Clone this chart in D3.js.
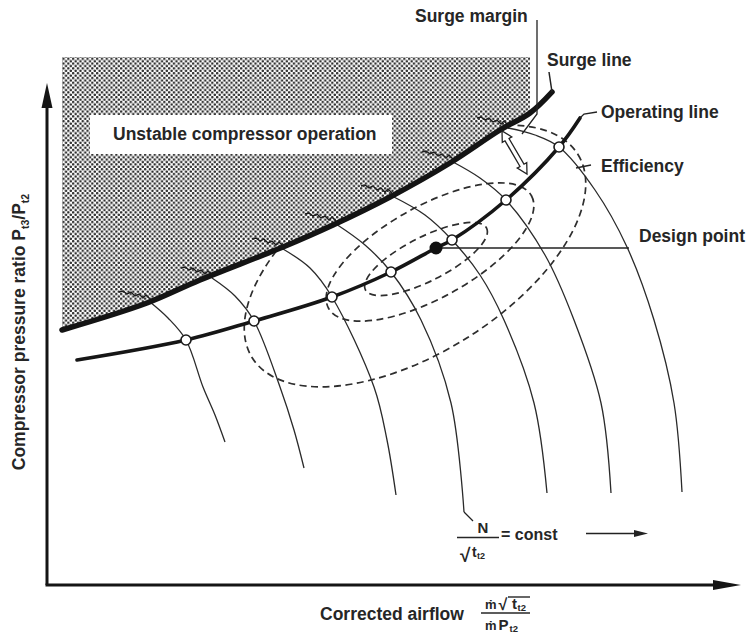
<!DOCTYPE html>
<html>
<head>
<meta charset="utf-8">
<script src="https://cdn.jsdelivr.net/npm/d3@7"></script>
<style>
  html, body { margin: 0; padding: 0; background: #fff; }
  svg { display: block; }
  text { font-family: "Liberation Sans", Arial, Helvetica, sans-serif; font-weight: bold; fill: #262626; }
</style>
</head>
<body>
<svg id="chart" width="748" height="640"></svg>
<script>
// ---- Compressor map data (schematic units: corrected airflow, pressure ratio) ----

// Surge line
const surgeX = [3.0, 20.0, 30.6, 47.2, 57.2, 68.6, 80.6, 90.6, 96.6, 101.0];
const surgeY = [51.0, 56.4, 61.0, 67.6, 72.0, 77.6, 84.4, 91.0, 94.4, 98.6];

// Steady-state operating line
const opX = [6.0, 27.8, 41.4, 57.0, 68.8, 77.8, 81.0, 91.8, 102.4, 106.6];
const opY = [45.0, 49.0, 52.8, 57.6, 62.6, 67.4, 69.0, 77.0, 87.6, 93.4];

// Matching points (speed line x operating line) and the design point
const matchX = [27.8, 41.4, 57.0, 68.8, 81.0, 91.8, 102.4];
const matchY = [49.0, 52.8, 57.6, 62.6, 69.0, 77.0, 87.6];
const designX = 77.8;
const designY = 67.4;

// Lines of constant corrected speed N / sqrt(t_t2)
const speedX = [
  [20.6, 24.2, 27.8, 31.2, 33.6, 35.6],
  [33.0, 37.6, 41.4, 46.6, 49.4, 51.4],
  [47.2, 52.6, 57.0, 65.4, 68.0, 69.8],
  [57.8, 63.6, 68.8, 74.8, 80.8, 83.4],
  [69.0, 75.6, 81.0, 86.6, 91.4, 97.4, 100.0],
  [81.2, 86.6, 91.8, 99.6, 105.4, 110.8, 112.8],
  [92.2, 97.6, 102.4, 109.6, 116.0, 121.4, 125.4, 127.0]
];
const speedY = [
  [56.6, 53.4, 49.0, 39.6, 34.0, 28.6],
  [61.4, 57.8, 52.8, 39.6, 31.0, 23.4],
  [67.2, 63.4, 57.6, 39.6, 29.0, 18.0],
  [72.2, 68.0, 62.6, 53.0, 36.4, 14.6],
  [77.8, 74.0, 69.0, 62.0, 53.0, 36.4, 18.4],
  [84.6, 81.4, 77.0, 66.0, 53.0, 36.4, 18.4],
  [91.4, 90.0, 87.6, 79.0, 67.6, 53.0, 36.4, 18.6]
];

// Efficiency islands (centre, semi-axes, tilt in degrees)
const effCx = [75.8, 76.6, 73.6];
const effCy = [65.2, 66.6, 65.8];
const effRx = [13.6, 23.2, 38.4];
const effRy = [4.4, 9.2, 19.4];
const effTilt = [27, 29, 32];

// Unstable (post-surge) region: top edge and right edge
const unstableTop = 105.6;
const unstableRightIndex = 8;   // last surge point under the shaded box

// Surge margin arrow: from surge line down to operating line
const marginFrom = [91.0, 90.8];
const marginTo = [96.0, 82.2];

// Axis extents
const xMax = 138.8;
const yMax = 100.4;

// ---- Scales ----
const x = d3.scaleLinear().domain([0, 140]).range([47, 747]);
const y = d3.scaleLinear().domain([0, 100]).range([585, 85]);

const svg = d3.select("#chart");
const defs = svg.append("defs");

// dot screen for the unstable region
const T = 4.8;
const pat = defs.append("pattern")
  .attr("id", "dots").attr("patternUnits", "userSpaceOnUse")
  .attr("width", T).attr("height", T);
pat.append("rect").attr("width", T).attr("height", T).attr("fill", "#fff");
pat.append("circle").attr("cx", T / 4).attr("cy", T / 4).attr("r", 1.25).attr("fill", "#2a2a2a");
pat.append("circle").attr("cx", 3 * T / 4).attr("cy", 3 * T / 4).attr("r", 1.25).attr("fill", "#2a2a2a");

const curve = d3.curveCatmullRom.alpha(0.5);
const lineXY = d3.line().x(d => x(d[0])).y(d => y(d[1])).curve(curve);
const zipXY = (xs, ys) => xs.map((v, i) => [v, ys[i]]);

// ---- Efficiency islands (dashed) ----
const gEff = svg.append("g");
effCx.forEach((cx, i) => {
  const px = x(cx), py = y(effCy[i]);
  gEff.append("ellipse")
    .attr("cx", px).attr("cy", py)
    .attr("rx", x(effRx[i]) - x(0))
    .attr("ry", y(0) - y(effRy[i]))
    .attr("transform", `rotate(${-effTilt[i]},${px},${py})`)
    .attr("fill", "none").attr("stroke", "#2e2e2e")
    .attr("stroke-width", 1.7).attr("stroke-dasharray", "7,4.5");
});

// ---- Constant speed lines ----
const gSpeed = svg.append("g");
speedX.forEach((xs, i) => {
  gSpeed.append("path")
    .attr("d", lineXY(zipXY(xs, speedY[i])))
    .attr("fill", "none").attr("stroke", "#2a2a2a").attr("stroke-width", 1.3);
});

// ---- Unstable region ----
const idx = d3.range(unstableRightIndex + 1);
const area = d3.area()
  .x(i => x(surgeX[i]))
  .y0(y(unstableTop))
  .y1(i => y(surgeY[i]))
  .curve(curve);
svg.append("path").attr("d", area(idx)).attr("fill", "url(#dots)");

// label box
svg.append("rect").attr("x", 90).attr("y", 115).attr("width", 302).attr("height", 39).attr("fill", "#fff");
svg.append("text").attr("x", 113).attr("y", 140).attr("font-size", 17.5)
  .text("Unstable compressor operation");

// stall marks at the top of every speed line
const squiggle = [[0,0],[-4,-4],[-7,-1],[-11,-5],[-15,-3],[-19,-7],[-23,-5],[-27,-8],[-31,-7]];
speedX.forEach((xs, i) => {
  const sx = x(xs[0]), sy = y(speedY[i][0]);
  svg.append("path")
    .attr("d", d3.line()(squiggle.map(p => [sx + p[0], sy - 3 + p[1]])))
    .attr("fill", "none").attr("stroke", "#1e1e1e").attr("stroke-width", 1.4);
});

// ---- Surge line ----
svg.append("path")
  .attr("d", lineXY(zipXY(surgeX, surgeY)))
  .attr("fill", "none").attr("stroke", "#141414").attr("stroke-width", 5.5)
  .attr("stroke-linecap", "round");

// ---- Operating line ----
svg.append("path")
  .attr("d", lineXY(zipXY(opX, opY)))
  .attr("fill", "none").attr("stroke", "#161616").attr("stroke-width", 3.6)
  .attr("stroke-linecap", "round");

// ---- Annotation leaders ----
const thin = (pts, w = 1.3) => svg.append("path").attr("d", d3.line()(pts))
  .attr("fill", "none").attr("stroke", "#222").attr("stroke-width", w);

// design point leader
thin([[x(designX), y(designY)], [629, y(designY)]], 1.5);
// surge margin leader
thin([[537, 20], [537, 114], [522, 134]]);
// surge line leader
const sEnd = [x(surgeX[surgeX.length - 1]), y(surgeY[surgeY.length - 1])];
thin([sEnd, [sEnd[0] - 3, sEnd[1] - 20]], 1.5);
// operating line leader
const oEnd = [x(opX[opX.length - 1]), y(opY[opY.length - 1])];
thin([oEnd, [oEnd[0] + 4, oEnd[1] - 4], [oEnd[0] + 17, oEnd[1] - 6]]);
// efficiency leader
thin([[576, 168], [591, 165]]);

// surge margin double arrow (hollow)
(function () {
  const A = [x(marginFrom[0]), y(marginFrom[1])];
  const B = [x(marginTo[0]), y(marginTo[1])];
  const L = Math.hypot(B[0] - A[0], B[1] - A[1]);
  const u = [(B[0] - A[0]) / L, (B[1] - A[1]) / L];
  const n = [-u[1], u[0]];
  const h = 10, w = 5.5, s = 2.3;
  const P = (base, a, b) => [base[0] + u[0] * a + n[0] * b, base[1] + u[1] * a + n[1] * b];
  const pts = [A, P(A, h, w), P(A, h, s), P(B, -h, s), P(B, -h, w), B,
               P(B, -h, -w), P(B, -h, -s), P(A, h, -s), P(A, h, -w)];
  svg.append("path").attr("d", d3.line()(pts) + "Z")
    .attr("fill", "#fff").attr("stroke", "#222").attr("stroke-width", 1.3);
})();

// matching points
svg.append("g").selectAll("circle").data(matchX).join("circle")
  .attr("cx", d => x(d)).attr("cy", (d, i) => y(matchY[i])).attr("r", 5)
  .attr("fill", "#fff").attr("stroke", "#1a1a1a").attr("stroke-width", 1.6);
// design point
svg.append("circle").attr("cx", x(designX)).attr("cy", y(designY)).attr("r", 6.5)
  .attr("fill", "#111");

// ---- Axes ----
svg.append("line").attr("x1", x(0)).attr("y1", y(0)).attr("x2", x(0)).attr("y2", y(yMax) + 20)
  .attr("stroke", "#151515").attr("stroke-width", 3);
svg.append("path").attr("d", d3.line()([[x(0), y(yMax)], [x(0) - 5.5, y(yMax) + 25], [x(0) + 5.5, y(yMax) + 25]]) + "Z")
  .attr("fill", "#151515");
svg.append("line").attr("x1", x(0) - 1.5).attr("y1", y(0)).attr("x2", x(xMax) - 20).attr("y2", y(0))
  .attr("stroke", "#151515").attr("stroke-width", 3);
svg.append("path").attr("d", d3.line()([[x(xMax), y(0)], [x(xMax) - 28, y(0) - 5], [x(xMax) - 28, y(0) + 5]]) + "Z")
  .attr("fill", "#151515");

// ---- Labels ----
const fs = 17.5;
const label = (tx, ty, s) => svg.append("text").attr("x", tx).attr("y", ty).attr("font-size", fs).text(s);
label(415, 22, "Surge margin");
label(547, 66, "Surge line");
label(601, 118, "Operating line");
label(601, 172, "Efficiency");
label(639, 242, "Design point");

// y-axis title
const yt = svg.append("text").attr("transform", "translate(25,332) rotate(-90)")
  .attr("text-anchor", "middle").attr("font-size", fs);
yt.append("tspan").text("Compressor pressure ratio P");
yt.append("tspan").attr("font-size", 10.5).attr("dy", 4).text("t3");
yt.append("tspan").attr("dy", -4).text("/P");
yt.append("tspan").attr("font-size", 10.5).attr("dy", 4).text("t2");

// x-axis title with corrected-flow fraction
label(320, 620, "Corrected airflow");
svg.append("text").attr("x", 485).attr("y", 609).attr("font-size", 13).attr("font-weight", "normal").text("ṁ");
svg.append("text").attr("x", 498.5).attr("y", 610).attr("font-size", 16).text("√");
svg.append("line").attr("x1", 508).attr("x2", 530).attr("y1", 597).attr("y2", 597).attr("stroke", "#262626").attr("stroke-width", 1.4);
svg.append("text").attr("x", 512).attr("y", 609).attr("font-size", 15).text("t");
svg.append("text").attr("x", 517.5).attr("y", 611).attr("font-size", 9.5).text("t2");
svg.append("line").attr("x1", 481).attr("x2", 530).attr("y1", 613).attr("y2", 613).attr("stroke", "#262626").attr("stroke-width", 1.3);
svg.append("text").attr("x", 485).attr("y", 630).attr("font-size", 13).attr("font-weight", "normal").text("ṁ");
svg.append("text").attr("x", 498.5).attr("y", 630).attr("font-size", 15).text("P");
svg.append("text").attr("x", 509.5).attr("y", 632).attr("font-size", 9.5).text("t2");

// N / sqrt(t_t2) = const, direction of increasing speed
const spd4 = speedX[3];
const lEnd = [x(spd4[spd4.length - 1]), y(speedY[3][speedY[3].length - 1])];
thin([lEnd, [lEnd[0] + 9, lEnd[1] + 9]], 1.2);
svg.append("text").attr("x", 483).attr("y", 533).attr("text-anchor", "middle").attr("font-size", 15).text("N");
svg.append("line").attr("x1", 457).attr("x2", 499).attr("y1", 537.5).attr("y2", 537.5).attr("stroke", "#262626").attr("stroke-width", 1.3);
svg.append("text").attr("x", 460).attr("y", 562).attr("font-size", 19).text("√");
svg.append("text").attr("x", 472).attr("y", 557).attr("font-size", 14).text("t");
svg.append("text").attr("x", 477).attr("y", 559).attr("font-size", 9).text("t2");
svg.append("text").attr("x", 501).attr("y", 540).attr("font-size", 16).text("= const");
svg.append("line").attr("x1", 586).attr("x2", 636).attr("y1", 533.5).attr("y2", 533.5).attr("stroke", "#222").attr("stroke-width", 1.5);
svg.append("path").attr("d", "M648,533.5L634,530L634,537Z").attr("fill", "#222");
</script>
</body>
</html>
